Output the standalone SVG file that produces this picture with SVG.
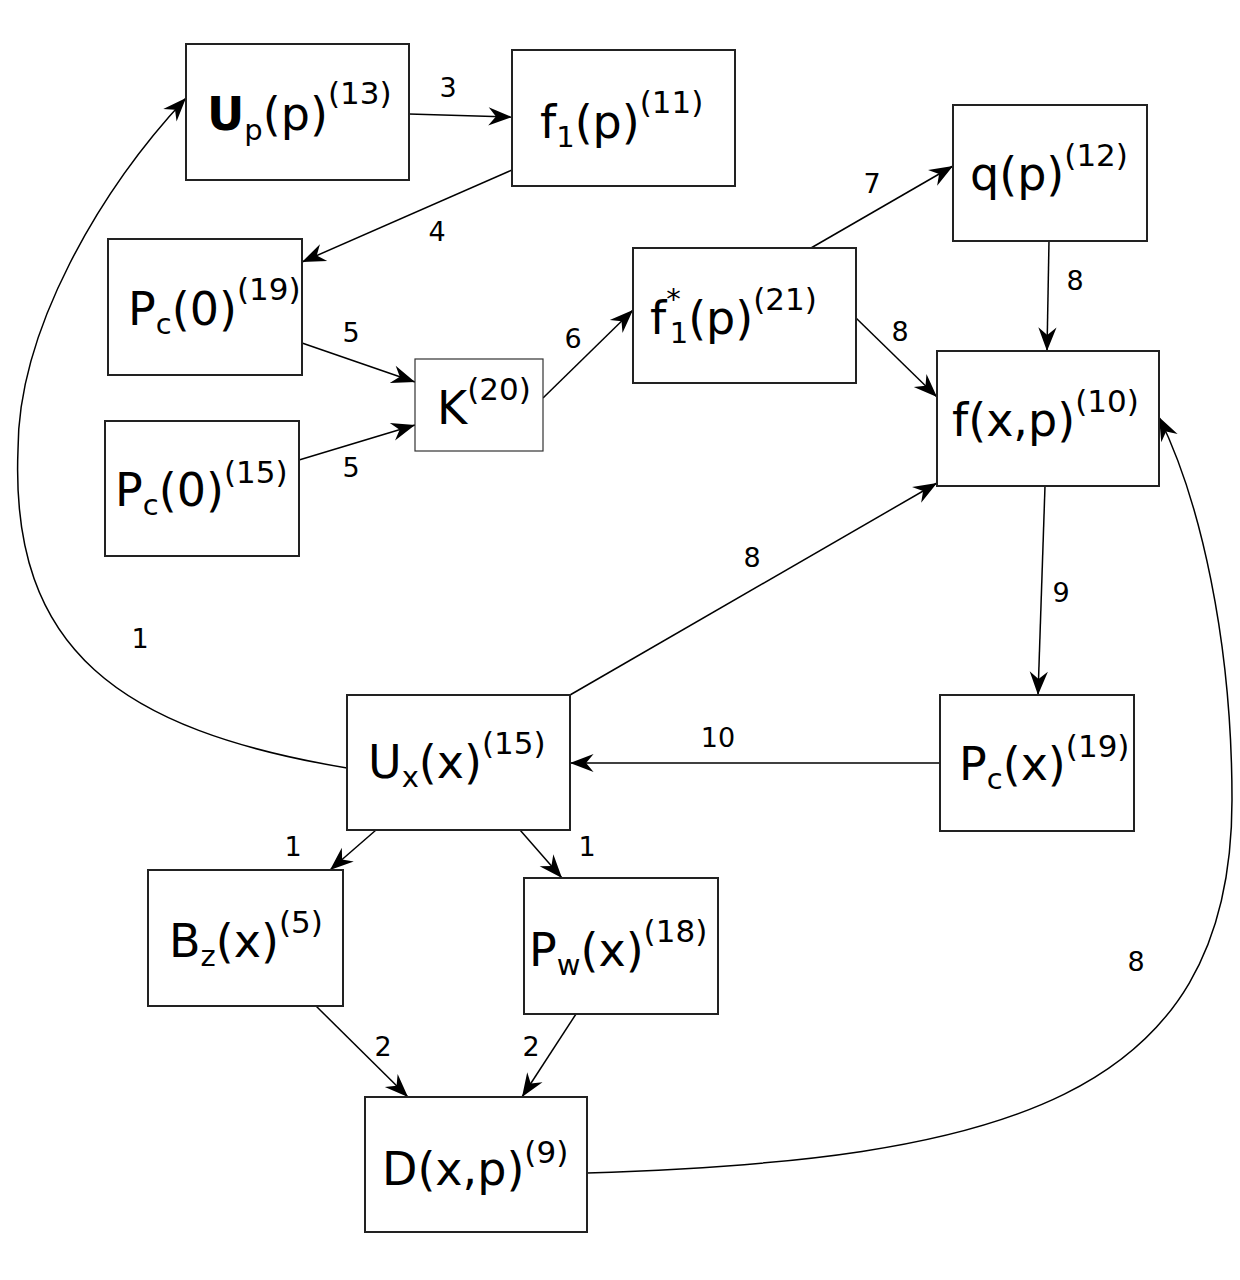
<svg xmlns="http://www.w3.org/2000/svg" width="1240" height="1280" viewBox="0 0 1240 1280">
<style>
.box{fill:#fff;stroke:#222;stroke-width:2}
.thin{fill:#fff;stroke:#333;stroke-width:1.2}
.t{font-family:"DejaVu Sans",sans-serif;font-size:46px;fill:#000}
.s{font-size:31px}
.b{font-size:29px}
.e{fill:none;stroke:#000;stroke-width:1.5;marker-end:url(#arr)}
.l{font-family:"DejaVu Sans",sans-serif;font-size:27px;fill:#000;text-anchor:middle}
</style>
<defs>
<marker id="arr" markerUnits="userSpaceOnUse" markerWidth="30" markerHeight="30" viewBox="-24 -12 28 24" refX="0" refY="0" orient="auto">
<path d="M0,0 L-22,-8.5 L-15,0 L-22,8.5 Z" fill="#000"/>
</marker>
</defs>
<g id="connectors">
<path class="e" d="M347,768 C120,730 10,650 18,450 C18,330 100,190 186,98"/>
<path class="e" d="M409,114 L512,117"/>
<path class="e" d="M512,170 L302,262"/>
<path class="e" d="M302,343 L415,382"/>
<path class="e" d="M299,460 L415,425"/>
<path class="e" d="M543,398 L633,310"/>
<path class="e" d="M811,248 L953,166"/>
<path class="e" d="M1049,241 L1047,351"/>
<path class="e" d="M856,318 L937,397"/>
<path class="e" d="M570,695 L937,483"/>
<path class="e" d="M1045,486 L1038,695"/>
<path class="e" d="M940,763 L570,763"/>
<path class="e" d="M376,830 L330,870"/>
<path class="e" d="M520,830 L562,878"/>
<path class="e" d="M316,1006 L408,1097"/>
<path class="e" d="M576,1014 L522,1097"/>
<path class="e" d="M587,1173 C1000,1160 1232,1100 1232,800 C1232,640 1200,500 1159,417"/>
<text class="l" x="140" y="648">1</text>
<text class="l" x="448" y="97">3</text>
<text class="l" x="437" y="241">4</text>
<text class="l" x="351" y="342">5</text>
<text class="l" x="351" y="477">5</text>
<text class="l" x="573" y="348">6</text>
<text class="l" x="872" y="193">7</text>
<text class="l" x="1075" y="290">8</text>
<text class="l" x="900" y="341">8</text>
<text class="l" x="752" y="567">8</text>
<text class="l" x="1061" y="602">9</text>
<text class="l" x="718" y="747">10</text>
<text class="l" x="293" y="856">1</text>
<text class="l" x="587" y="856">1</text>
<text class="l" x="383" y="1056">2</text>
<text class="l" x="531" y="1056">2</text>
<text class="l" x="1136" y="971">8</text>
</g>
<g id="n-up"><rect class="box" x="186" y="44" width="223" height="136"/>
<text class="t" x="207" y="130"><tspan font-weight="bold">U</tspan><tspan class="b" y="140">p</tspan><tspan y="130">(p)</tspan><tspan class="s" y="104">(13)</tspan></text></g>
<g id="n-f1"><rect class="box" x="512" y="50" width="223" height="136"/>
<text class="t" x="540" y="138">f<tspan class="b" y="147">1</tspan><tspan y="138">(p)</tspan><tspan class="s" y="113">(11)</tspan></text></g>
<g id="n-pc19"><rect class="box" x="108" y="239" width="194" height="136"/>
<text class="t" x="128" y="325">P<tspan class="b" y="334">c</tspan><tspan y="325">(0)</tspan><tspan class="s" y="300">(19)</tspan></text></g>
<g id="n-pc15"><rect class="box" x="105" y="421" width="194" height="135"/>
<text class="t" x="115" y="506">P<tspan class="b" y="515">c</tspan><tspan y="506">(0)</tspan><tspan class="s" y="483">(15)</tspan></text></g>
<g id="n-k"><rect class="thin" x="415" y="359" width="128" height="92"/>
<text class="t" x="437" y="424">K<tspan class="s" y="400">(20)</tspan></text></g>
<g id="n-fstar"><rect class="box" x="633" y="248" width="223" height="135"/>
<text class="t" x="650" y="334">f<tspan class="b" y="309">*</tspan><tspan class="b" dx="-11" y="343">1</tspan><tspan y="334">(p)</tspan><tspan class="s" y="310">(21)</tspan></text></g>
<g id="n-q"><rect class="box" x="953" y="105" width="194" height="136"/>
<text class="t" x="970" y="190">q(p)<tspan class="s" y="166">(12)</tspan></text></g>
<g id="n-fxp"><rect class="box" x="937" y="351" width="222" height="135"/>
<text class="t" x="952" y="436">f(x,p)<tspan class="s" y="412">(10)</tspan></text></g>
<g id="n-ux"><rect class="box" x="347" y="695" width="223" height="135"/>
<text class="t" x="368" y="778">U<tspan class="b" y="787">x</tspan><tspan y="778">(x)</tspan><tspan class="s" y="754">(15)</tspan></text></g>
<g id="n-pcx"><rect class="box" x="940" y="695" width="194" height="136"/>
<text class="t" x="959" y="780">P<tspan class="b" y="789">c</tspan><tspan y="780">(x)</tspan><tspan class="s" y="757">(19)</tspan></text></g>
<g id="n-bz"><rect class="box" x="148" y="870" width="195" height="136"/>
<text class="t" x="169" y="957">B<tspan class="b" y="966">z</tspan><tspan y="957">(x)</tspan><tspan class="s" y="933">(5)</tspan></text></g>
<g id="n-pw"><rect class="box" x="524" y="878" width="194" height="136"/>
<text class="t" x="529" y="966">P<tspan class="b" y="975">w</tspan><tspan y="966">(x)</tspan><tspan class="s" y="942">(18)</tspan></text></g>
<g id="n-d"><rect class="box" x="365" y="1097" width="222" height="135"/>
<text class="t" x="382" y="1185">D(x,p)<tspan class="s" y="1163">(9)</tspan></text></g>
</svg>
